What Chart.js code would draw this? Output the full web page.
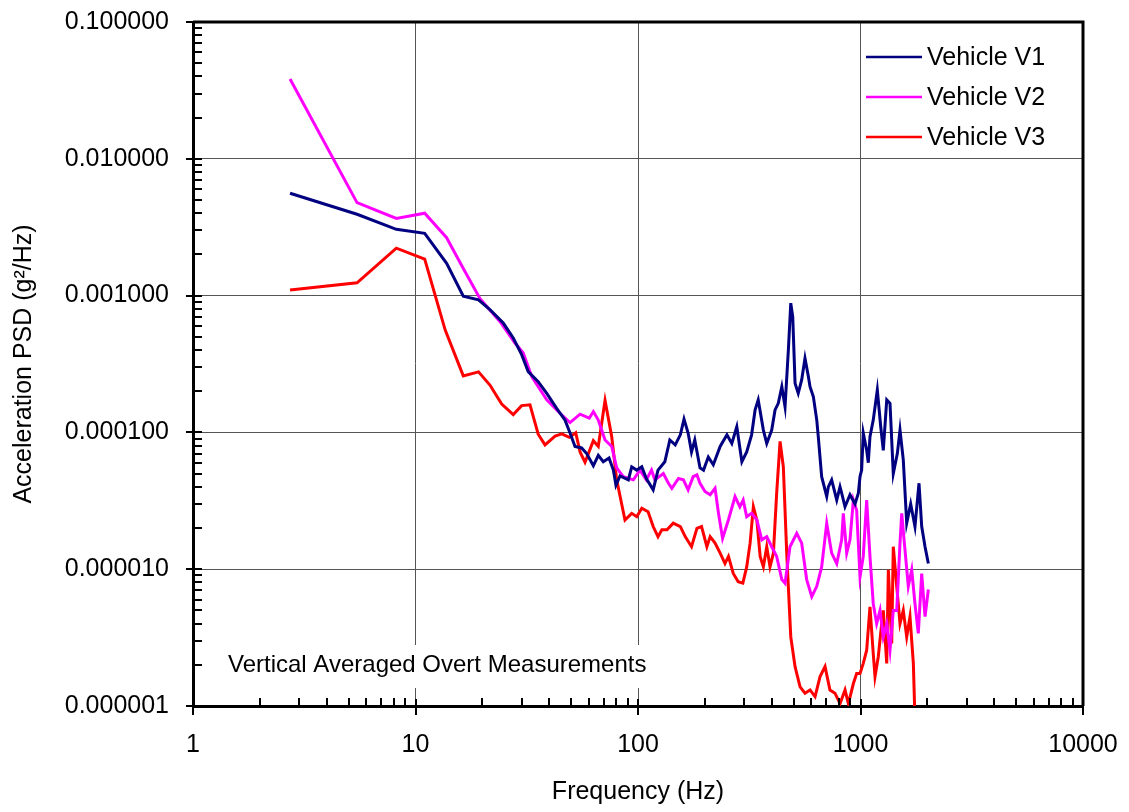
<!DOCTYPE html>
<html>
<head>
<meta charset="utf-8">
<script src="https://cdn.jsdelivr.net/npm/chart.js@4"></script>
<style>
  body { margin: 0; background: #fff; }
  canvas { display: block; }
</style>
</head>
<body>
<canvas id="psdChart" width="1129" height="812"></canvas>
<script>
// axis ticks
const xTickValues = [1, 10, 100, 1000, 10000];
const xTickLabels = ['1', '10', '100', '1000', '10000'];
const yTickValues = [1e-6, 1e-5, 1e-4, 1e-3, 1e-2, 1e-1];
const yTickLabels = ['0.000001', '0.000010', '0.000100', '0.001000', '0.010000', '0.100000'];

// Vehicle V1 (Hz, g^2/Hz)
const freqV1 = [2.73, 5.46, 8.2, 11.0, 13.8, 16.4, 19.2, 21.6, 24.8, 27.5, 30.0, 32.1, 35.6, 38.9, 43.1, 47.0, 49.5, 52.1, 55.8, 58.8,
  63.0, 66.3, 69.8, 74.1, 77.5, 79.6, 83.0, 90.5, 93.7, 98.7, 104, 109, 117, 123, 132, 139, 147, 155, 161, 168,
  174, 180, 190, 197, 207, 218, 234, 251, 264, 278, 293, 308, 324, 336, 347, 366, 379, 399, 413, 427,
  443, 458, 474, 486, 496, 508, 525, 544, 563, 583, 593, 614, 636, 646, 669, 705, 717, 742, 768, 782,
  809, 823, 852, 897, 945, 978, 995, 1012, 1029, 1066, 1084, 1103, 1141, 1190, 1233, 1266, 1312, 1357, 1404, 1464,
  1505, 1557, 1613, 1681, 1757, 1832, 1884, 1950, 2018];
const psdV1 = [5.6e-3, 3.93e-3, 3.05e-3, 2.85e-3, 1.72e-3, 9.9e-4, 9.3e-4, 7.9e-4, 6.3e-4, 4.9e-4, 3.7e-4, 2.78e-4, 2.35e-4, 1.93e-4, 1.50e-4, 1.23e-4, 9.9e-5, 7.9e-5, 7.7e-5, 7.0e-5,
  5.7e-5, 6.8e-5, 6.1e-5, 6.5e-5, 5.3e-5, 4.1e-5, 4.8e-5, 4.5e-5, 5.6e-5, 5.3e-5, 5.6e-5, 4.6e-5, 3.8e-5, 5.3e-5, 6.1e-5, 8.8e-5, 8.1e-5, 9.6e-5, 1.25e-4, 9.9e-5,
  7.2e-5, 8.8e-5, 5.5e-5, 5.3e-5, 6.6e-5, 5.8e-5, 7.9e-5, 9.6e-5, 8.3e-5, 1.10e-4, 6.1e-5, 7.2e-5, 9.6e-5, 1.46e-4, 1.73e-4, 1.04e-4, 8.3e-5, 1.04e-4, 1.46e-4, 1.63e-4,
  2.16e-4, 1.54e-4, 4.0e-4, 8.8e-4, 7.0e-4, 2.29e-4, 1.93e-4, 2.42e-4, 3.48e-4, 2.56e-4, 2.16e-4, 1.82e-4, 1.23e-4, 9.3e-5, 4.75e-5, 3.4e-5, 4.0e-5, 4.5e-5, 3.6e-5, 3.2e-5,
  4.0e-5, 3.6e-5, 2.86e-5, 3.5e-5, 3.0e-5, 3.6e-5, 4.75e-5, 5.3e-5, 9.9e-5, 7.4e-5, 6.0e-5, 9.3e-5, 1.23e-4, 2.04e-4, 1.10e-4, 7.4e-5, 1.73e-4, 1.63e-4, 5.0e-5, 7.0e-5,
  1.04e-4, 6.3e-5, 2.17e-5, 3.0e-5, 2.05e-5, 4.25e-5, 2.05e-5, 1.46e-5, 1.10e-5];

// Vehicle V2
const freqV2 = [2.73, 5.46, 8.2, 11.0, 13.8, 16.4, 19.5, 24.0, 28.0, 30.5, 33.3, 38.9, 44.6, 49.5, 54.9, 60.4, 63.0, 66.3, 71.1, 76.2,
  80.2, 85.9, 95.3, 102, 109, 115, 119, 130, 137, 142, 152, 160, 168, 177, 184, 190, 200, 211, 222, 230,
  240, 255, 273, 287, 297, 308, 324, 342, 360, 379, 399, 420, 443, 458, 482, 517, 544, 573, 604, 636,
  669, 705, 742, 782, 823, 837, 867, 897, 929, 961, 995, 1029, 1066, 1103, 1141, 1182, 1224, 1266, 1312, 1357,
  1404, 1455, 1505, 1532, 1585, 1640, 1699, 1757, 1819, 1884, 1950, 2018];
const psdV2 = [3.83e-2, 4.78e-3, 3.67e-3, 4.0e-3, 2.65e-3, 1.58e-3, 9.5e-4, 6.45e-4, 4.5e-4, 3.8e-4, 2.56e-4, 1.73e-4, 1.38e-4, 1.18e-4, 1.36e-4, 1.27e-4, 1.42e-4, 1.23e-4, 8.8e-5, 7.9e-5,
  5.5e-5, 4.75e-5, 4.5e-5, 5.3e-5, 4.5e-5, 5.3e-5, 4.5e-5, 5.0e-5, 4.25e-5, 3.9e-5, 4.6e-5, 4.5e-5, 3.8e-5, 4.75e-5, 4.9e-5, 4.25e-5, 3.7e-5, 3.5e-5, 3.9e-5, 2.56e-5,
  1.68e-5, 2.3e-5, 3.4e-5, 2.86e-5, 3.2e-5, 2.42e-5, 2.56e-5, 2.3e-5, 1.64e-5, 1.73e-5, 1.46e-5, 1.24e-5, 8.4e-6, 7.9e-6, 1.46e-5, 1.83e-5, 1.55e-5, 8.4e-6, 6.3e-6, 7.5e-6,
  1.04e-5, 2.17e-5, 1.31e-5, 1.10e-5, 1.64e-5, 2.56e-5, 1.31e-5, 1.64e-5, 3.2e-5, 2.7e-5, 8.8e-6, 1.24e-5, 3.2e-5, 1.24e-5, 5.6e-6, 4.0e-6, 5.0e-6, 3.2e-6, 4.0e-6, 2.56e-6,
  5.0e-6, 5.0e-6, 1.55e-5, 2.56e-5, 1.38e-5, 7.5e-6, 9.9e-6, 5.6e-6, 3.4e-6, 9.3e-6, 4.5e-6, 7.1e-6];

// Vehicle V3
const freqV3 = [2.73, 5.46, 8.2, 11.0, 13.6, 16.4, 19.2, 21.6, 24.4, 27.5, 30.0, 32.7, 35.6, 38.2, 42.4, 45.4, 49.1, 52.5, 54.9, 57.8,
  63.0, 66.3, 71.1, 76.2, 80.2, 87.4, 93.7, 98.7, 104, 111, 117, 123, 128, 135, 144, 155, 163, 174, 184, 193,
  204, 211, 222, 234, 246, 255, 268, 282, 296, 308, 319, 330, 342, 354, 366, 379, 392, 406, 420, 435,
  450, 466, 486, 508, 535, 563, 593, 625, 658, 693, 729, 768, 809, 852, 882, 929, 961, 995, 1029, 1066,
  1103, 1141, 1162, 1202, 1245, 1266, 1312, 1334, 1381, 1404, 1455, 1505, 1557, 1613, 1669, 1728, 1757];
const psdV3 = [1.10e-3, 1.24e-3, 2.22e-3, 1.85e-3, 5.6e-4, 2.59e-4, 2.77e-4, 2.22e-4, 1.61e-4, 1.35e-4, 1.57e-4, 1.59e-4, 9.7e-5, 8.1e-5, 9.4e-5, 9.75e-5, 9.2e-5, 9.95e-5, 7.2e-5, 6.05e-5,
  8.7e-5, 7.9e-5, 1.71e-4, 9.3e-5, 4.5e-5, 2.29e-5, 2.56e-5, 2.42e-5, 2.79e-5, 2.63e-5, 2.05e-5, 1.73e-5, 1.94e-5, 1.94e-5, 2.17e-5, 2.05e-5, 1.73e-5, 1.46e-5, 1.99e-5, 2.05e-5,
  1.46e-5, 1.73e-5, 1.55e-5, 1.31e-5, 1.10e-5, 1.24e-5, 9.3e-6, 8.1e-6, 7.9e-6, 1.04e-5, 1.55e-5, 2.86e-5, 2.29e-5, 1.24e-5, 1.04e-5, 1.46e-5, 1.04e-5, 1.31e-5, 3.6e-5, 8.6e-5,
  5.6e-5, 1.31e-5, 3.2e-6, 1.94e-6, 1.38e-6, 1.24e-6, 1.31e-6, 1.17e-6, 1.64e-6, 1.94e-6, 1.31e-6, 1.24e-6, 1.04e-6, 1.31e-6, 1.04e-6, 1.46e-6, 1.73e-6, 1.73e-6, 2.05e-6, 2.56e-6,
  5.3e-6, 2.42e-6, 1.64e-6, 2.29e-6, 4.0e-6, 5.0e-6, 2.05e-6, 9.9e-6, 2.87e-6, 1.46e-5, 7.5e-6, 4.0e-6, 5.0e-6, 3.2e-6, 4.5e-6, 2.05e-6, 8.0e-7];

const FONT = 'Liberation Sans, Arial, sans-serif';

function toPoints(xs, ys) {
  return xs.map((f, i) => ({ x: f, y: ys[i] }));
}

// frame on top/right, tick marks, legend and note box
const decor = {
  id: 'decor',
  afterDatasetsDraw(chart) {
    const { ctx, chartArea: a, scales: { x, y } } = chart;
    ctx.save();
    ctx.strokeStyle = '#000';
    ctx.lineWidth = 3;
    ctx.beginPath();
    ctx.moveTo(a.left, a.top);
    ctx.lineTo(a.right, a.top);
    ctx.lineTo(a.right, a.bottom);
    ctx.stroke();

    ctx.lineWidth = 2;
    const seg = (x1, y1, x2, y2) => {
      ctx.beginPath(); ctx.moveTo(x1, y1); ctx.lineTo(x2, y2); ctx.stroke();
    };
    // x ticks: minor inside, major crossing the axis
    xTickValues.forEach((v, i) => {
      const px = Math.round(x.getPixelForValue(v));
      seg(px, a.bottom - 7, px, a.bottom + 9);
      if (i < xTickValues.length - 1) {
        for (let m = 2; m <= 9; m++) {
          const mx = Math.round(x.getPixelForValue(m * v));
          seg(mx, a.bottom - 8, mx, a.bottom);
        }
      }
    });
    yTickValues.forEach((v, i) => {
      const py = Math.round(y.getPixelForValue(v));
      seg(a.left - 7, py, a.left + 9, py);
      if (i < yTickValues.length - 1) {
        for (let m = 2; m <= 9; m++) {
          const my = Math.round(y.getPixelForValue(m * v));
          seg(a.left, my, a.left + 9, my);
        }
      }
    });

    // legend
    ctx.fillStyle = '#fff';
    ctx.fillRect(a.right - 222, a.top + 13, 219, 122);
    ctx.font = '25px ' + FONT;
    ctx.textBaseline = 'middle';
    ctx.textAlign = 'left';
    chart.data.datasets.forEach((ds, i) => {
      const ly = a.top + 35 + i * 40;
      ctx.strokeStyle = ds.borderColor;
      ctx.lineWidth = 2.5;
      seg(a.right - 217, ly, a.right - 161, ly);
      ctx.fillStyle = '#000';
      ctx.fillText(ds.label, a.right - 156, ly + 1);
    });

    // note
    ctx.fillStyle = '#fff';
    ctx.fillRect(a.left + 29, a.bottom - 61, 430, 43);
    ctx.fillStyle = '#000';
    ctx.font = '24px ' + FONT;
    ctx.fillText('Vertical Averaged Overt Measurements', a.left + 35, a.bottom - 41);
    ctx.restore();
  }
};

const axisFont = { family: FONT, size: 25 };
// invisible tick marks hold the labels away from the axis line
const gridOpts = { color: '#555', lineWidth: 1, drawTicks: true, tickLength: 24, tickColor: 'rgba(0,0,0,0)' };

new Chart(document.getElementById('psdChart'), {
  type: 'line',
  data: {
    datasets: [
      { label: 'Vehicle V1', data: toPoints(freqV1, psdV1), borderColor: '#000080' },
      { label: 'Vehicle V2', data: toPoints(freqV2, psdV2), borderColor: '#FF00FF' },
      { label: 'Vehicle V3', data: toPoints(freqV3, psdV3), borderColor: '#FF0000' }
    ]
  },
  options: {
    responsive: false,
    animation: false,
    layout: { padding: { top: 22, right: 46, left: 0, bottom: 0 } },
    elements: {
      point: { radius: 0 },
      line: { borderWidth: 3, tension: 0, fill: false }
    },
    scales: {
      x: {
        type: 'logarithmic',
        min: 1,
        max: 10000,
        afterBuildTicks: s => { s.ticks = xTickValues.map(v => ({ value: v })); },
        afterFit: s => { s.height = 106; },
        ticks: {
          callback: (v, i) => xTickLabels[i],
          font: axisFont,
          color: '#000',
          padding: 0,
          maxRotation: 0,
          autoSkip: false
        },
        grid: gridOpts,
        border: { color: '#000', width: 3 },
        title: {
          display: true,
          text: 'Frequency (Hz)',
          font: axisFont,
          color: '#000',
          padding: { top: 0, bottom: 5 }
        }
      },
      y: {
        type: 'logarithmic',
        min: 1e-6,
        max: 0.1,
        afterBuildTicks: s => { s.ticks = yTickValues.map(v => ({ value: v })); },
        afterFit: s => { s.width = 193; },
        ticks: {
          callback: (v, i) => yTickLabels[i],
          font: axisFont,
          color: '#000',
          padding: 0,
          autoSkip: false
        },
        grid: gridOpts,
        border: { color: '#000', width: 3 },
        title: {
          display: true,
          text: 'Acceleration PSD (g²/Hz)',
          font: axisFont,
          color: '#000',
          padding: { top: 9, bottom: 0 }
        }
      }
    },
    plugins: {
      legend: { display: false },
      tooltip: { enabled: false }
    }
  },
  plugins: [decor]
});
</script>
</body>
</html>
